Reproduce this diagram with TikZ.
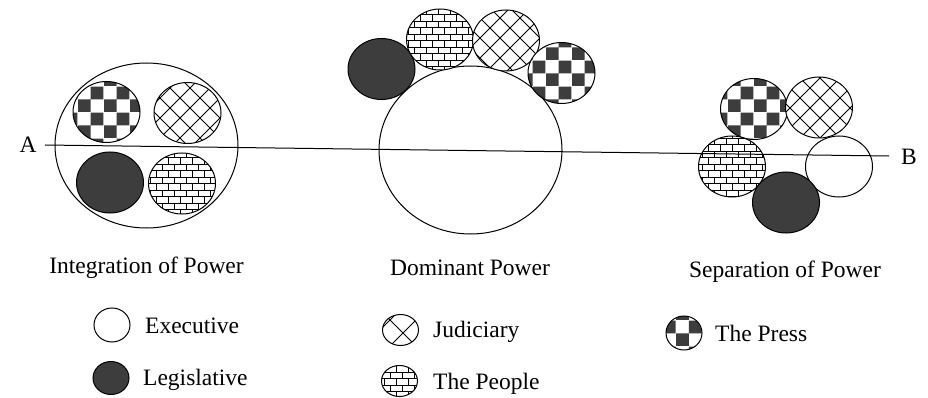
\documentclass[tikz,border=0pt]{standalone}
\usepackage{fontspec}
\setmainfont{Liberation Serif}
\usetikzlibrary{patterns,shapes.geometric}

\definecolor{darkfill}{gray}{0.24}

\pgfdeclarepatternformonly{mycheckerbig}{\pgfpointorigin}{\pgfpoint{26pt}{26pt}}{\pgfpoint{26pt}{26pt}}{%
  \pgfpathrectangle{\pgfpointorigin}{\pgfpoint{13pt}{13pt}}%
  \pgfpathrectangle{\pgfpoint{13pt}{13pt}}{\pgfpoint{13pt}{13pt}}%
  \pgfusepath{fill}}

\pgfdeclarepatternformonly{myxhatch}{\pgfpoint{-1pt}{-1pt}}{\pgfpoint{21pt}{21pt}}{\pgfpoint{20pt}{20pt}}{%
  \pgfsetlinewidth{1pt}%
  \pgfpathmoveto{\pgfpointorigin}\pgfpathlineto{\pgfpoint{20pt}{20pt}}%
  \pgfpathmoveto{\pgfpoint{0pt}{20pt}}\pgfpathlineto{\pgfpoint{20pt}{0pt}}%
  \pgfusepath{stroke}}

\pgfdeclarepatternformonly{myxhatchbig}{\pgfpoint{-1pt}{-1pt}}{\pgfpoint{27pt}{27pt}}{\pgfpoint{26pt}{26pt}}{%
  \pgfsetlinewidth{1pt}%
  \pgfpathmoveto{\pgfpointorigin}\pgfpathlineto{\pgfpoint{26pt}{26pt}}%
  \pgfpathmoveto{\pgfpoint{0pt}{26pt}}\pgfpathlineto{\pgfpoint{26pt}{0pt}}%
  \pgfusepath{stroke}}

\pgfdeclarepatternformonly{mybricks}{\pgfpoint{-0.5pt}{-0.5pt}}{\pgfpoint{12.5pt}{13.5pt}}{\pgfpoint{12pt}{13pt}}{%
  \pgfsetlinewidth{0.9pt}%
  \pgfpathmoveto{\pgfpointorigin}\pgfpathlineto{\pgfpoint{12pt}{0pt}}%
  \pgfpathmoveto{\pgfpoint{0pt}{6.5pt}}\pgfpathlineto{\pgfpoint{12pt}{6.5pt}}%
  \pgfpathmoveto{\pgfpointorigin}\pgfpathlineto{\pgfpoint{0pt}{6.5pt}}%
  \pgfpathmoveto{\pgfpoint{6pt}{6.5pt}}\pgfpathlineto{\pgfpoint{6pt}{13pt}}%
  \pgfusepath{stroke}}

\tikzset{
  pw/.style={ellipse, draw, line width=1pt, inner sep=0pt, minimum width=67pt, minimum height=61pt},
  exe/.style={pw, fill=white},
  legis/.style={pw, fill=darkfill},
  jud/.style={pw, preaction={fill=white}, pattern=myxhatch, pattern color=black},
  ppl/.style={pw, preaction={fill=white}, pattern=mybricks, pattern color=black},
  prs/.style={pw, preaction={fill=white}, pattern=mycheckerbig, pattern color=darkfill},
  small/.style={minimum width=36pt, minimum height=34pt},
  lbl/.style={font=\fontsize{23.5}{27}\selectfont, anchor=base, inner sep=0pt},
  lgt/.style={font=\fontsize{23.5}{27}\selectfont, anchor=base west, inner sep=0pt},
}

\begin{document}
\begin{tikzpicture}[x=1pt, y=-1pt]
\useasboundingbox (0,0) rectangle (928,398);

% Integration of Power
\node[exe, minimum width=183pt, minimum height=165pt] (ibig) at (146.5,145.5) {};
\node[prs] (ipress) at (106.5,112) {};
\node[jud] (ijud) at (187.5,113) {};
\node[legis] (ileg) at (110,182.5) {};
\node[ppl] (ippl) at (182,183.5) {};

% Dominant Power
\node[exe, minimum width=183pt, minimum height=168pt] (dbig) at (470.5,150) {};
\node[legis] (dleg) at (381.5,69) {};
\node[ppl] (dppl) at (440,39.5) {};
\node[jud] (djud) at (506,40.5) {};
\node[prs] (dpress) at (561.5,73) {};

% Separation of Power
\node[prs] (spress) at (754,109) {};
\node[jud] (sjud) at (819,107.5) {};
\node[ppl] (sppl) at (732,166.5) {};
\node[exe] (sexe) at (839,166.5) {};
\node[legis] (sleg) at (786,202.5) {};

% line A--B
\node[font=\fontsize{23.5}{27}\selectfont, inner sep=0pt] (A) at (28,145) {A};
\node[font=\fontsize{23.5}{27}\selectfont, inner sep=0pt] (B) at (909,157) {B};
\coordinate (lineA) at (45,145);
\coordinate (lineB) at (889,156);
\draw[line width=1pt] (lineA) -- (lineB);

% titles
\node[lbl] (t1) at (146.5,273) {Integration of Power};
\node[lbl] (t2) at (470,275) {Dominant Power};
\node[lbl] (t3) at (785,277) {Separation of Power};

% legend
\node[exe, small] (lexe) at (112,325) {};
\node[lgt] (lexet) at (145,333) {Executive};
\node[legis, small, minimum height=33pt] (lleg) at (111,378) {};
\node[lgt] (llegt) at (143,385) {Legislative};
\node[pw, small, minimum height=31pt, preaction={fill=white}, pattern=myxhatchbig, pattern color=black] (ljud) at (400.5,330) {};
\node[lgt] (ljudt) at (433,337) {Judiciary};
\node[ppl, small, minimum height=31pt] (lppl) at (399.5,381) {};
\node[lgt] (lpplt) at (433,389) {The People};
\node[prs, small] (lprs) at (684,333) {};
\node[lgt] (lprst) at (715,341) {The Press};
\end{tikzpicture}
\end{document}
